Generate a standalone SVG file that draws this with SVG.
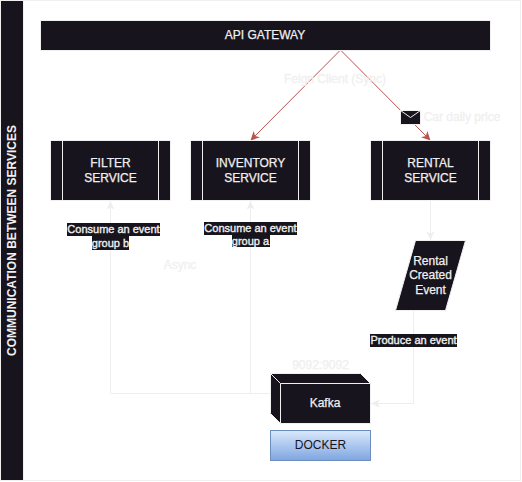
<svg xmlns="http://www.w3.org/2000/svg" width="522" height="482" viewBox="0 0 522 482">
<style>
text{font-family:"Liberation Sans",Arial,sans-serif;text-anchor:middle}
.n{fill:#18141d;stroke:#f0f0f0;stroke-width:1}
.t{font-size:12px;fill:#f0f0f0;stroke:#f0f0f0;stroke-width:.25}
.ghost{font-size:12px;fill:#f0f0f0;stroke:#f0f0f0;stroke-width:.3}
.l{font-size:11px;fill:#f0f0f0;stroke:#f0f0f0;stroke-width:.35}
.lb{fill:#18141d}
.red{fill:none;stroke:#b85450;stroke-width:1}
.grey{fill:none;stroke:#eeeeee;stroke-width:1}
.in{fill:none;stroke:#f0f0f0;stroke-width:1}
</style>
<defs>
<marker id="ar" markerWidth="10" markerHeight="10" refX="8.500" refY="4.500" orient="auto" markerUnits="userSpaceOnUse"><path d="M0 .5L8.500 4.500L0 8.500L2 4.500Z" fill="#eeeeee"/></marker>
<marker id="ared" markerWidth="11" markerHeight="11" refX="9" refY="5" orient="auto" markerUnits="userSpaceOnUse"><path d="M0 .5L9 5L0 9.500L2.500 5Z" fill="#b85450"/></marker>
<linearGradient id="dg" x1="0" y1="0" x2="0" y2="1"><stop offset="0" stop-color="#dae8fc"/><stop offset="1" stop-color="#7ea6e0"/></linearGradient>
</defs>
<rect width="522" height="482" fill="#fff"/>
<g id="lane">
<rect x="0.500" y="0.500" width="520" height="480" fill="none" stroke="#f0f0f0"/>
<rect class="n" x="0.500" y="0.500" width="23" height="480"/>
<text font-weight="bold" font-size="12" fill="#f0f0f0" transform="translate(16 240.500) rotate(-90)">COMMUNICATION BETWEEN SERVICES</text>
</g>
<g id="connectors">
<path class="grey" d="M271 393.500H110.500V201" marker-end="url(#ar)"/>
<path class="grey" d="M250.500 393.500V201" marker-end="url(#ar)"/>
<path class="grey" d="M430.500 200V240" marker-end="url(#ar)"/>
<path class="grey" d="M413.500 310V403.500H371" marker-end="url(#ar)"/>
<path class="red" d="M340.500 50L250.500 140.500" marker-end="url(#ared)"/>
<path class="red" d="M340.500 50L430.500 140.500" marker-end="url(#ared)"/>
</g>
<g id="edge-labels">
<rect class="lb" x="67" y="223" width="93" height="13"/><rect class="lb" x="92" y="236" width="37" height="14"/>
<text class="l" x="113.500" y="233">Consume an event</text><text class="l" x="110.500" y="247">group b</text>
<rect class="lb" x="204" y="222" width="93" height="13"/><rect class="lb" x="232" y="235" width="38" height="12"/>
<text class="l" x="250.500" y="232">Consume an event</text><text class="l" x="250.500" y="245">group a</text>
<rect class="lb" x="370" y="334" width="87" height="13"/>
<text class="l" x="413.500" y="344">Produce an event</text>
</g>
<g id="gateway"><rect class="n" x="40.500" y="20.500" width="450" height="30"/><text class="t" x="265" y="39">API GATEWAY</text></g>
<g id="filter"><rect class="n" x="50.500" y="140.500" width="120" height="60"/><path class="in" d="M62.500 140.500V200.500M158.500 140.500V200.500"/><text class="t" x="110.500" y="167">FILTER</text><text class="t" x="110.500" y="182">SERVICE</text></g>
<g id="inventory"><rect class="n" x="190.500" y="140.500" width="120" height="60"/><path class="in" d="M202.500 140.500V200.500M298.500 140.500V200.500"/><text class="t" x="250.500" y="167">INVENTORY</text><text class="t" x="250.500" y="182">SERVICE</text></g>
<g id="rental"><rect class="n" x="370.500" y="140.500" width="120" height="60"/><path class="in" d="M382.500 140.500V200.500M478.500 140.500V200.500"/><text class="t" x="430.500" y="167">RENTAL</text><text class="t" x="430.500" y="182">SERVICE</text></g>
<g id="envelope"><rect class="n" x="400.500" y="110.500" width="20" height="14"/><path class="in" d="M400.500 110.500L410.500 117.500L420.500 110.500"/></g>
<g id="event"><path class="n" d="M415.500 240.500H465.500L445.500 310.500H395.500Z"/><text class="t" x="430.500" y="265">Rental</text><text class="t" x="430.500" y="279">Created</text><text class="t" x="430.500" y="294">Event</text></g>
<g id="kafka"><path class="n" d="M270.500 373.500H360.500L370.500 383.500V423.500H280.500L270.500 413.500Z"/><path class="in" d="M270.500 373.500L280.500 383.500H370.500M280.500 383.500V423.500"/><text class="t" x="325" y="407">Kafka</text></g>
<g id="docker"><rect x="270.500" y="430.500" width="100" height="30" fill="url(#dg)" stroke="#6c8ebf"/><text font-size="12" fill="#18141d" x="320.500" y="449">DOCKER</text></g>
<g id="notes">
<text class="ghost" x="335" y="83">Feign Client (Sync)</text>
<text class="ghost" x="462" y="121">Car daily price</text>
<text class="ghost" x="180" y="269">Async</text>
<text class="ghost" x="320.500" y="369">9092:9092</text>
</g>
</svg>
